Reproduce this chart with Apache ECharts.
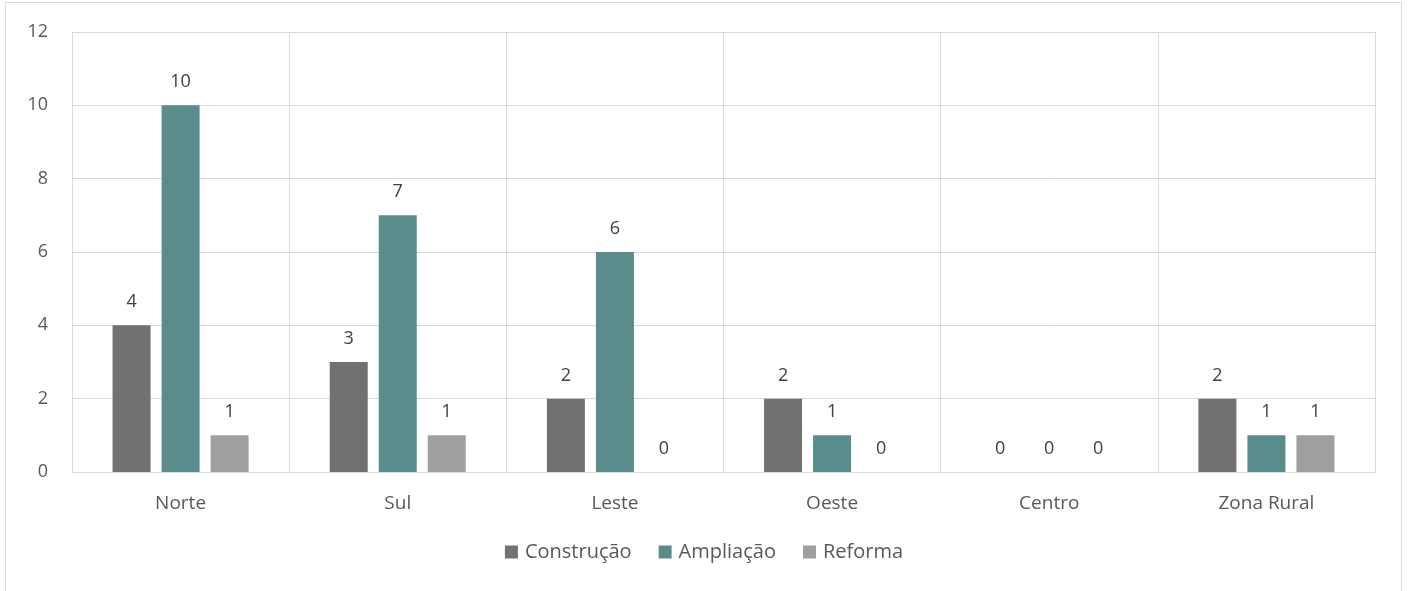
<!DOCTYPE html>
<html>
<head>
<meta charset="utf-8">
<script src="https://cdn.jsdelivr.net/npm/echarts@6/dist/echarts.min.js"></script>
<style>
  html, body {margin: 0; padding: 0; background: #fff;}
  #frame {position: absolute; left: 5px; top: 2px; width: 1397px; height: 600px; border: 1px solid #d9d9d9; box-sizing: border-box;}
  #chart {position: absolute; left: 0; top: 0; width: 1408px; height: 591px;}
</style>
</head>
<body>
<div id="frame"></div>
<div id="chart"></div>
<script>
const categories = ['Norte', 'Sul', 'Leste', 'Oeste', 'Centro', 'Zona Rural'];
const construcao = [4, 3, 2, 2, 0, 2];
const ampliacao = [10, 7, 6, 1, 0, 1];
const reforma = [1, 1, 0, 0, 0, 1];

const font = '"Open Sans", sans-serif';
const chart = echarts.init(document.getElementById('chart'));

const series = [
  {name: 'Construção', data: construcao, color: '#717171'},
  {name: 'Ampliação', data: ampliacao, color: '#5b8c8c'},
  {name: 'Reforma', data: reforma, color: '#9f9f9f'}
].map(s => ({
  name: s.name,
  type: 'bar',
  data: s.data,
  barWidth: 38,
  barGap: '29%',
  itemStyle: {color: s.color},
  label: {
    show: true,
    position: 'top',
    distance: 14,
    color: '#404040',
    fontSize: 18,
    fontFamily: font
  }
}));

chart.setOption({
  animation: false,
  textStyle: {fontFamily: font},
  legend: {
    bottom: 24,
    left: 'center',
    itemWidth: 13,
    itemHeight: 13,
    itemGap: 27,
    icon: 'rect',
    textStyle: {color: '#595959', fontSize: 20, fontFamily: font, padding: [0, 0, 0, 2]}
  },
  grid: {left: 72, right: 33, top: 32, bottom: 119, containLabel: false},
  xAxis: {
    type: 'category',
    data: categories,
    axisLine: {lineStyle: {color: '#d9d9d9'}},
    axisTick: {show: false},
    splitLine: {show: true, lineStyle: {color: '#d9d9d9'}},
    axisLabel: {color: '#595959', fontSize: 19, margin: 22, fontFamily: font}
  },
  yAxis: {
    type: 'value',
    min: 0,
    max: 12,
    interval: 2,
    axisLine: {show: false},
    axisTick: {show: false},
    splitLine: {lineStyle: {color: '#d9d9d9'}},
    axisLabel: {color: '#595959', fontSize: 18, margin: 24, fontFamily: font}
  },
  series: series
});
</script>
</body>
</html>
